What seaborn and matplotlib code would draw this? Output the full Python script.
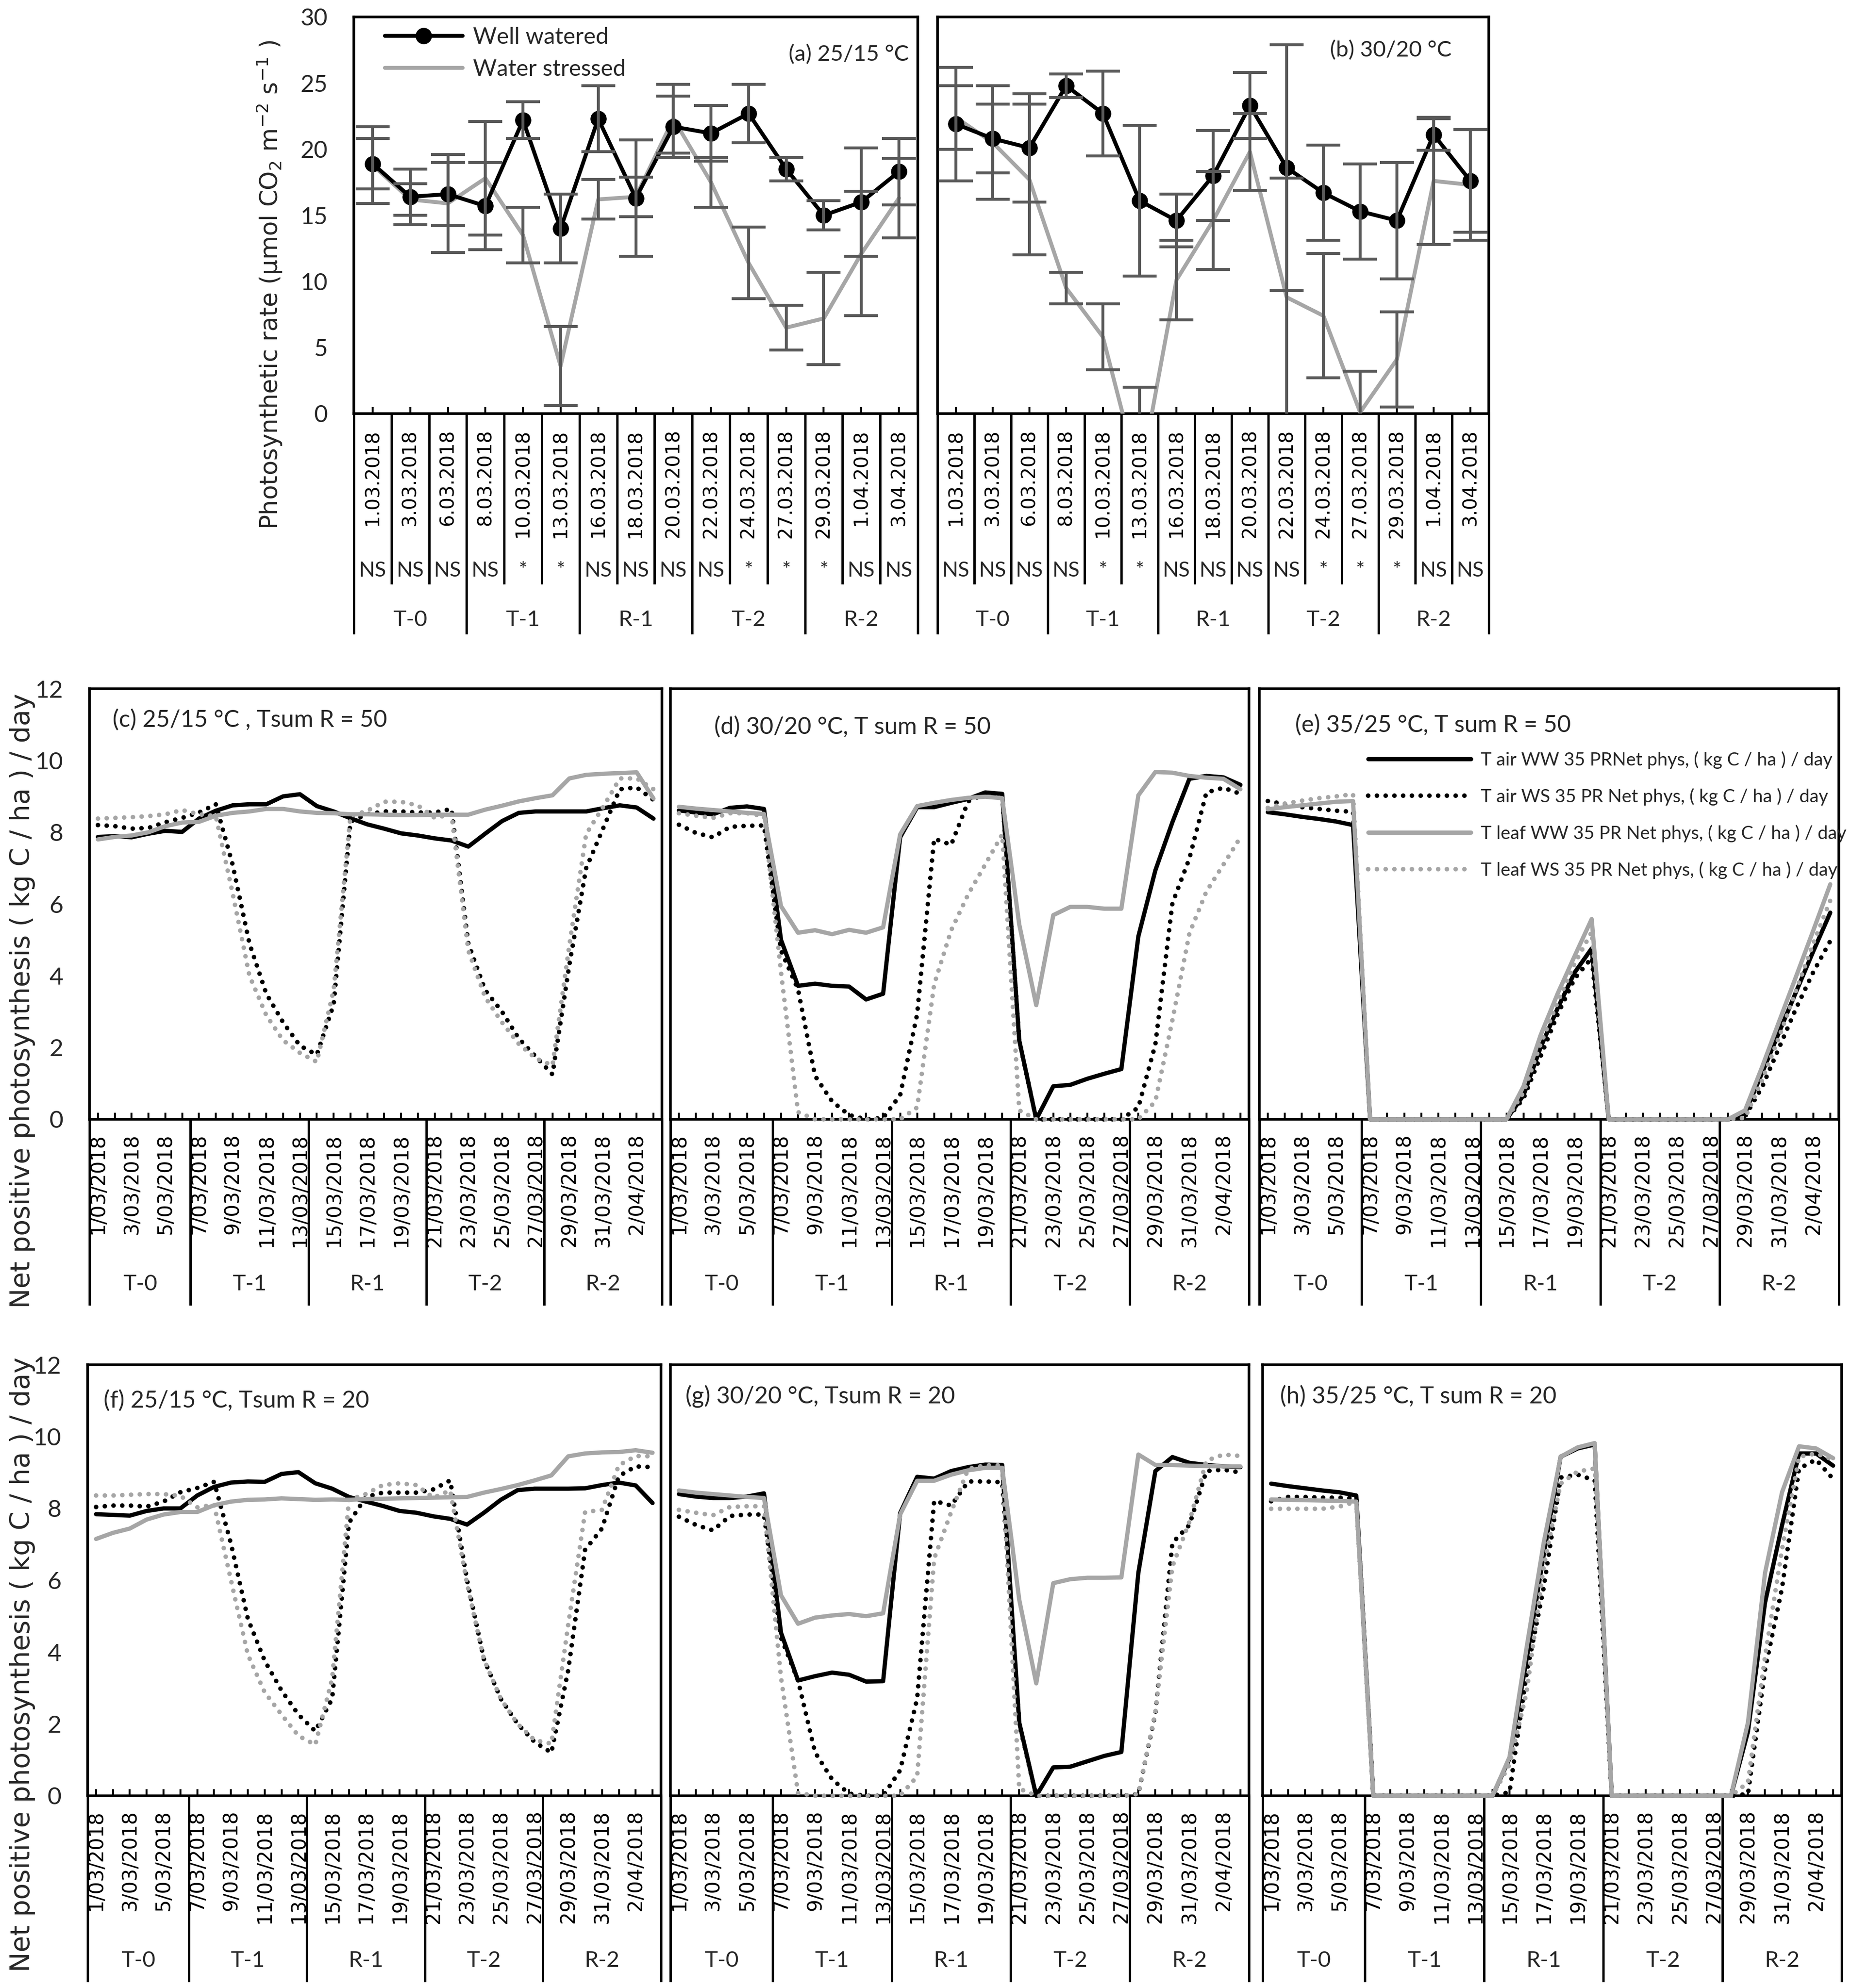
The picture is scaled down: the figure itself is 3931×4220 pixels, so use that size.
import numpy as np
import matplotlib
matplotlib.use("Agg")
import matplotlib.pyplot as plt
from matplotlib.lines import Line2D
import seaborn as sns

sns.set_theme(style="white")
plt.rcParams["font.family"] = ["Lato", "DejaVu Sans"]
plt.rcParams["mathtext.fontset"] = "dejavusans"

W, H = 3931, 4220
BLACK = "#000000"
GREY = "#A6A6A6"
ERR = "#595959"
DOT = (0, (0.01, 1.9))

# ---------------- data: measured photosynthesis (a, b) ----------------
top_dates = ["1.03.2018", "3.03.2018", "6.03.2018", "8.03.2018", "10.03.2018",
             "13.03.2018", "16.03.2018", "18.03.2018", "20.03.2018", "22.03.2018",
             "24.03.2018", "27.03.2018", "29.03.2018", "1.04.2018", "3.04.2018"]
top_sig = ["NS", "NS", "NS", "NS", "*", "*", "NS", "NS", "NS", "NS", "*", "*", "*", "NS", "NS"]
groups = ["T-0", "T-1", "R-1", "T-2", "R-2"]
top_group_sizes = [3, 3, 3, 3, 3]

a_ww = [18.9, 16.4, 16.6, 15.7, 22.2, 14.0, 22.3, 16.3, 21.7, 21.2, 22.7, 18.5, 15.0, 16.0, 18.3]
a_ww_err = [1.9, 2.1, 2.4, 3.3, 1.4, 2.6, 2.5, 4.4, 2.3, 2.1, 2.2, 0.9, 1.1, 4.1, 2.5]
a_ws = [18.8, 16.2, 15.9, 17.8, 13.5, 3.6, 16.2, 16.4, 22.3, 17.5, 11.4, 6.5, 7.2, 12.1, 16.3]
a_ws_err = [2.9, 1.2, 3.7, 4.3, 2.1, 3.0, 1.5, 1.5, 2.6, 1.9, 2.7, 1.7, 3.5, 4.7, 3.0]

b_ww = [21.9, 20.8, 20.1, 24.8, 22.7, 16.1, 14.6, 18.0, 23.3, 18.6, 16.7, 15.3, 14.6, 21.1, 17.6]
b_ww_err = [4.3, 2.6, 4.1, 0.9, 3.2, 5.7, 2.0, 3.4, 2.5, 9.3, 3.6, 3.6, 4.4, 1.2, 3.9]
b_ws = [22.4, 20.5, 17.7, 9.5, 5.8, -5.0, 10.1, 14.6, 19.8, 8.8, 7.4, 0.1, 4.1, 17.6, 17.3]
b_ws_err = [2.4, 4.3, 5.7, 1.2, 2.5, 7.0, 3.0, 3.7, 2.9, 9.0, 4.7, 3.1, 3.6, 4.8, 4.2]

# ---------------- data: simulated net photosynthesis (c - h) ----------------
mid_dates = ["1/03/2018", "3/03/2018", "5/03/2018", "7/03/2018", "9/03/2018", "11/03/2018",
             "13/03/2018", "15/03/2018", "17/03/2018", "19/03/2018", "21/03/2018", "23/03/2018",
             "25/03/2018", "27/03/2018", "29/03/2018", "31/03/2018", "2/04/2018"]
mid_group_sizes = [6, 7, 7, 7, 7]
n_days = 34

c_air_ww = [7.87, 7.89, 7.86, 7.96, 8.04, 8.01, 8.38, 8.60, 8.75, 8.78, 8.78, 9.00, 9.06, 8.73, 8.58, 8.39, 8.22,
            8.10, 7.97, 7.91, 7.83, 7.77, 7.60, 7.96, 8.31, 8.54, 8.58, 8.58, 8.58, 8.58, 8.67, 8.75, 8.69, 8.38]
c_air_ws = [8.20, 8.17, 8.10, 8.12, 8.28, 8.40, 8.55, 8.78, 7.10, 4.90, 3.50, 2.70, 2.05, 1.80, 3.20, 8.30, 8.50,
            8.58, 8.58, 8.55, 8.55, 8.65, 4.90, 3.60, 3.00, 2.25, 1.75, 1.25, 4.30, 7.00, 8.10, 9.20, 9.25, 8.90]
c_leaf_ww = [7.80, 7.87, 7.91, 8.00, 8.17, 8.27, 8.29, 8.46, 8.54, 8.58, 8.65, 8.65, 8.58, 8.54, 8.53, 8.50, 8.50,
             8.49, 8.48, 8.48, 8.49, 8.49, 8.49, 8.63, 8.74, 8.86, 8.95, 9.03, 9.50, 9.60, 9.63, 9.65, 9.67, 8.94]
c_leaf_ws = [8.38, 8.40, 8.42, 8.45, 8.50, 8.62, 8.50, 8.45, 6.30, 4.00, 2.90, 2.20, 1.85, 1.60, 3.60, 8.45, 8.60,
             8.85, 8.85, 8.75, 8.40, 8.50, 4.70, 3.40, 2.70, 2.10, 1.70, 1.50, 4.85, 7.95, 8.70, 9.50, 9.50, 9.20]

d_air_ww = [8.61, 8.55, 8.50, 8.68, 8.72, 8.65, 5.00, 3.72, 3.78, 3.72, 3.70, 3.34, 3.50, 7.86, 8.70, 8.70, 8.82,
            8.93, 9.11, 9.07, 2.20, 0.00, 0.92, 0.96, 1.13, 1.27, 1.40, 5.10, 6.94, 8.28, 9.49, 9.57, 9.53, 9.32]
d_air_ws = [8.21, 7.98, 7.86, 8.15, 8.18, 8.19, 4.70, 3.62, 1.21, 0.50, 0.12, 0.00, 0.04, 0.67, 2.93, 7.82, 7.65,
            8.86, 9.07, 9.03, 2.20, 0.00, 0.00, 0.00, 0.00, 0.00, 0.00, 0.33, 2.09, 6.02, 7.27, 9.11, 9.24, 9.07]
d_leaf_ww = [8.71, 8.66, 8.62, 8.58, 8.54, 8.51, 5.94, 5.20, 5.27, 5.16, 5.28, 5.20, 5.35, 7.94, 8.73, 8.82, 8.90,
             8.96, 8.99, 8.95, 5.43, 3.18, 5.69, 5.92, 5.92, 5.87, 5.87, 9.03, 9.68, 9.66, 9.57, 9.52, 9.49, 9.20]
d_leaf_ws = [8.53, 8.46, 8.40, 8.53, 8.53, 8.45, 4.10, 0.20, 0.00, 0.00, 0.00, 0.00, 0.00, 0.00, 0.33, 3.76, 5.27,
             6.27, 7.10, 7.94, 0.25, 0.00, 0.00, 0.00, 0.00, 0.00, 0.00, 0.00, 0.50, 2.76, 5.18, 6.35, 7.10, 7.86]

e_air_ww = [8.56, 8.50, 8.43, 8.37, 8.30, 8.20, 0.00, 0.00, 0.00, 0.00, 0.00, 0.00, 0.00, 0.00, 0.00, 0.67, 2.00,
            3.09, 4.09, 4.76, 0.00, 0.00, 0.00, 0.00, 0.00, 0.00, 0.00, 0.00, 0.17, 1.30, 2.43, 3.56, 4.68, 5.76]
e_air_ws = [8.87, 8.78, 8.70, 8.65, 8.60, 8.57, 0.00, 0.00, 0.00, 0.00, 0.00, 0.00, 0.00, 0.00, 0.00, 0.58, 1.75,
            2.92, 3.92, 4.50, 0.00, 0.00, 0.00, 0.00, 0.00, 0.00, 0.00, 0.00, 0.08, 0.90, 2.00, 3.10, 4.10, 4.97]
e_leaf_ww = [8.64, 8.70, 8.75, 8.80, 8.85, 8.87, 0.00, 0.00, 0.00, 0.00, 0.00, 0.00, 0.00, 0.00, 0.00, 0.92, 2.34,
             3.50, 4.55, 5.58, 0.00, 0.00, 0.00, 0.00, 0.00, 0.00, 0.00, 0.00, 0.25, 1.46, 2.73, 3.99, 5.26, 6.55]
e_leaf_ws = [8.68, 8.80, 8.88, 8.95, 9.00, 9.06, 0.00, 0.00, 0.00, 0.00, 0.00, 0.00, 0.00, 0.00, 0.00, 0.75, 2.09,
             3.26, 4.34, 5.22, 0.00, 0.00, 0.00, 0.00, 0.00, 0.00, 0.00, 0.00, 0.04, 1.10, 2.30, 3.60, 4.90, 6.10]

f_air_ww = [7.84, 7.82, 7.80, 7.93, 8.00, 8.00, 8.36, 8.60, 8.72, 8.75, 8.74, 8.96, 9.01, 8.70, 8.55, 8.32, 8.19,
            8.07, 7.93, 7.88, 7.78, 7.71, 7.55, 7.88, 8.24, 8.51, 8.55, 8.55, 8.55, 8.56, 8.65, 8.72, 8.64, 8.15]
f_air_ws = [8.04, 8.08, 8.08, 8.05, 8.19, 8.45, 8.57, 8.74, 7.02, 4.93, 3.76, 2.93, 2.26, 1.80, 2.70, 7.60, 8.32,
            8.44, 8.44, 8.44, 8.53, 8.78, 6.00, 3.80, 2.70, 2.00, 1.50, 1.20, 3.50, 6.85, 7.44, 8.90, 9.17, 9.15]
f_leaf_ww = [7.15, 7.32, 7.44, 7.69, 7.83, 7.90, 7.90, 8.09, 8.19, 8.24, 8.25, 8.28, 8.26, 8.24, 8.25, 8.24, 8.26,
             8.27, 8.28, 8.29, 8.30, 8.31, 8.32, 8.44, 8.54, 8.65, 8.78, 8.92, 9.45, 9.53, 9.56, 9.57, 9.62, 9.55]
f_leaf_ws = [8.36, 8.36, 8.38, 8.40, 8.40, 8.35, 8.03, 8.10, 6.00, 3.93, 2.88, 2.26, 1.67, 1.42, 3.26, 8.24, 8.40,
             8.65, 8.70, 8.65, 8.30, 8.50, 5.90, 3.80, 2.70, 2.00, 1.55, 1.45, 4.77, 7.90, 7.96, 9.20, 9.46, 9.45]

g_air_ww = [8.40, 8.33, 8.29, 8.29, 8.33, 8.42, 4.54, 3.21, 3.33, 3.43, 3.37, 3.18, 3.19, 7.87, 8.88, 8.83, 9.04,
            9.15, 9.22, 9.21, 2.04, 0.00, 0.79, 0.81, 0.96, 1.11, 1.22, 6.21, 9.04, 9.43, 9.27, 9.21, 9.17, 9.15]
g_air_ws = [7.77, 7.54, 7.39, 7.79, 7.83, 7.83, 4.40, 3.21, 1.21, 0.46, 0.06, 0.00, 0.00, 0.71, 2.71, 8.21, 8.08,
            8.75, 8.75, 8.73, 2.00, 0.00, 0.00, 0.00, 0.00, 0.00, 0.00, 0.05, 2.29, 7.04, 7.54, 9.04, 9.08, 9.00]
g_leaf_ww = [8.50, 8.44, 8.40, 8.36, 8.32, 8.29, 5.58, 4.79, 4.96, 5.02, 5.06, 5.00, 5.08, 7.83, 8.77, 8.77, 8.94,
             9.06, 9.13, 9.13, 5.46, 3.13, 5.92, 6.03, 6.07, 6.07, 6.08, 9.50, 9.21, 9.21, 9.19, 9.18, 9.17, 9.17]
g_leaf_ws = [7.96, 7.88, 7.81, 8.04, 8.06, 8.06, 3.29, 0.08, 0.00, 0.00, 0.00, 0.00, 0.00, 0.00, 0.54, 6.60, 7.90,
             9.10, 9.20, 9.20, 0.20, 0.00, 0.00, 0.00, 0.00, 0.00, 0.00, 0.05, 2.33, 6.38, 7.63, 9.33, 9.50, 9.46]

h_air_ww = [8.69, 8.62, 8.56, 8.50, 8.45, 8.36, 0.00, 0.00, 0.00, 0.00, 0.00, 0.00, 0.00, 0.00, 1.04, 3.80, 6.70,
            9.44, 9.67, 9.78, 0.00, 0.00, 0.00, 0.00, 0.00, 0.00, 0.00, 0.00, 1.79, 5.37, 7.53, 9.53, 9.53, 9.19]
h_air_ws = [8.20, 8.32, 8.32, 8.30, 8.30, 8.28, 0.00, 0.00, 0.00, 0.00, 0.00, 0.00, 0.00, 0.00, 0.10, 3.40, 5.78,
            8.86, 8.94, 8.78, 0.00, 0.00, 0.00, 0.00, 0.00, 0.00, 0.00, 0.00, 0.05, 3.50, 5.78, 9.11, 9.36, 8.82]
h_leaf_ww = [8.25, 8.24, 8.23, 8.22, 8.21, 8.19, 0.00, 0.00, 0.00, 0.00, 0.00, 0.00, 0.00, 0.00, 1.08, 4.12, 7.03,
             9.44, 9.70, 9.82, 0.00, 0.00, 0.00, 0.00, 0.00, 0.00, 0.00, 0.00, 2.04, 6.20, 8.45, 9.73, 9.67, 9.40]
h_leaf_ws = [7.99, 7.99, 7.99, 7.99, 8.05, 8.19, 0.00, 0.00, 0.00, 0.00, 0.00, 0.00, 0.00, 0.00, 0.87, 2.87, 6.36,
             8.69, 9.03, 9.11, 0.00, 0.00, 0.00, 0.00, 0.00, 0.00, 0.00, 0.00, 0.37, 3.87, 6.86, 9.44, 9.53, 9.36]

legend_labels = ["T air WW 35 PRNet phys, ( kg C / ha ) / day",
                 "T air WS 35 PR Net phys, ( kg C / ha ) / day",
                 "T leaf WW 35 PR Net phys, ( kg C / ha ) / day",
                 "T leaf WS 35 PR Net phys, ( kg C / ha ) / day"]


def add_ax(fig, left, right, top, bottom):
    return fig.add_axes([left / W, 1 - bottom / H, (right - left) / W, (bottom - top) / H])


def frac(top, bottom, ypx):
    return (bottom - ypx) / (bottom - top)


def style_box(ax):
    for sp in ax.spines.values():
        sp.set_visible(True)
        sp.set_color(BLACK)
        sp.set_linewidth(4.0)
    ax.grid(False)
    ax.set_facecolor("white")


def draw_table(ax, top, bottom, n, sizes, grp_y, grp_end, cat_end=None, sig=None, sig_y=None):
    tr = ax.get_xaxis_transform()
    kw = dict(transform=tr, color=BLACK, lw=3.6, clip_on=False, solid_capstyle="butt")
    if cat_end is not None:
        for b in range(1, n):
            ax.plot([b - 0.5, b - 0.5], [0, frac(top, bottom, cat_end)], **kw)
    edges = np.concatenate([[0], np.cumsum(sizes)]) - 0.5
    for e in edges:
        ax.plot([e, e], [0, frac(top, bottom, grp_end)], **kw)
    for name, lo, hi in zip(groups, edges[:-1], edges[1:]):
        ax.text((lo + hi) / 2, frac(top, bottom, grp_y), name, transform=tr,
                ha="center", va="center", fontsize=34)
    if sig is not None:
        for i, s in enumerate(sig):
            ax.text(i, frac(top, bottom, sig_y), s, transform=tr,
                    ha="center", va="baseline", fontsize=32)


fig = plt.figure(figsize=(W / 100, H / 100), dpi=100)
fig.patch.set_facecolor("white")

# ---------------- top row ----------------
TT, TB = 36, 878
top_specs = [
    (751, 1948, a_ww, a_ww_err, a_ws, a_ws_err, "(a) 25/15 \u00b0C", 0.984, 0.905, True),
    (1990, 3160, b_ww, b_ww_err, b_ws, b_ws_err, "(b) 30/20 \u00b0C", 0.933, 0.916, False),
]
for left, right, ww, ww_err, ws, ws_err, title, tx, ty, first in top_specs:
    ax = add_ax(fig, left, right, TT, TB)
    style_box(ax)
    x = np.arange(len(top_dates))
    sns.lineplot(x=x, y=ww, ax=ax, color=BLACK, lw=6, marker="o", markersize=24,
                 markeredgecolor=BLACK, markerfacecolor=BLACK, zorder=4)
    sns.lineplot(x=x, y=ws, ax=ax, color=GREY, lw=6, zorder=3)
    ax.errorbar(x, ww, yerr=ww_err, fmt="none", ecolor=ERR, elinewidth=4.5,
                capsize=26, capthick=4.5, zorder=5)
    ax.errorbar(x, ws, yerr=ws_err, fmt="none", ecolor=ERR, elinewidth=4.5,
                capsize=26, capthick=4.5, zorder=5)
    ax.set_xlim(-0.5, len(top_dates) - 0.5)
    ax.set_ylim(0, 30)
    ax.set_yticks(range(0, 31, 5))
    ax.set_xticks(x)
    ax.set_xticklabels(top_dates, rotation=90, fontsize=29, fontfamily="DejaVu Sans")
    ax.tick_params(axis="x", direction="in", length=10, width=3, pad=24, colors=BLACK, bottom=True)
    ax.tick_params(axis="y", length=0, pad=40, labelsize=36)
    if not first:
        ax.set_yticklabels([])
    ax.set_xlabel("")
    ax.set_ylabel("")
    ax.text(tx, ty, title, transform=ax.transAxes, ha="right", va="center", fontsize=34)
    draw_table(ax, TT, TB, len(top_dates), top_group_sizes, grp_y=1316, grp_end=1346,
               cat_end=1240, sig=top_sig, sig_y=1224)
    if first:
        handles = [Line2D([], [], color=BLACK, lw=6, marker="o", markersize=24),
                   Line2D([], [], color=GREY, lw=6)]
        ax.legend(handles, ["Well watered", "Water stressed"], loc="upper left",
                  bbox_to_anchor=(0.055, 0.975), frameon=False, fontsize=35,
                  handlelength=3.4, handletextpad=0.45, labelspacing=0.5,
                  borderpad=0, borderaxespad=0)

fig.text(572 / W, 1 - 604 / H,
         "Photosynthetic rate (\u00b5mol CO$_2$ m$^{-2}$ s$^{-1}$ )",
         rotation=90, ha="center", va="center", fontsize=37, fontfamily="DejaVu Sans")

# ---------------- middle and bottom rows ----------------
mid_specs = [
    (190, 1405, 1462, 2376, (c_air_ww, c_air_ws, c_leaf_ww, c_leaf_ws),
     "(c) 25/15 \u00b0C , Tsum R = 50", 0.040, 0.928, True, False),
    (1423, 2651, 1462, 2376, (d_air_ww, d_air_ws, d_leaf_ww, d_leaf_ws),
     "(d) 30/20 \u00b0C, T sum R = 50", 0.0757, 0.911, False, False),
    (2673, 3903, 1462, 2376, (e_air_ww, e_air_ws, e_leaf_ww, e_leaf_ws),
     "(e) 35/25 \u00b0C, T sum R = 50", 0.062, 0.915, False, True),
    (186, 1403, 2897, 3812, (f_air_ww, f_air_ws, f_leaf_ww, f_leaf_ws),
     "(f) 25/15 \u00b0C, Tsum R = 20", 0.028, 0.917, True, False),
    (1423, 2651, 2897, 3812, (g_air_ww, g_air_ws, g_leaf_ww, g_leaf_ws),
     "(g) 30/20 \u00b0C, Tsum R = 20", 0.026, 0.927, False, False),
    (2680, 3909, 2897, 3812, (h_air_ww, h_air_ws, h_leaf_ww, h_leaf_ws),
     "(h) 35/25 \u00b0C, T sum R = 20", 0.030, 0.927, False, False),
]
line_styles = [(BLACK, "-", 6.5), (BLACK, DOT, 7.0), (GREY, "-", 6.5), (GREY, DOT, 7.0)]
xt_labels = [mid_dates[i // 2] if i % 2 == 0 else "" for i in range(n_days)]

for left, right, top, bottom, series, title, tx, ty, first, with_legend in mid_specs:
    ax = add_ax(fig, left, right, top, bottom)
    style_box(ax)
    x = np.arange(n_days)
    for vals, (col, ls, lw) in zip(series, line_styles):
        sns.lineplot(x=x, y=vals, ax=ax, color=col, linestyle=ls, lw=lw,
                     dash_capstyle="round", clip_on=False, zorder=3)
    ax.set_xlim(-0.5, n_days - 0.5)
    ax.set_ylim(0, 12)
    ax.set_yticks(range(0, 13, 2))
    ax.set_xticks(x)
    ax.set_xticklabels(xt_labels, rotation=90, fontsize=30, fontfamily="DejaVu Sans")
    ax.tick_params(axis="x", direction="in", length=10, width=3, pad=22, colors=BLACK, bottom=True)
    ax.tick_params(axis="y", length=0, pad=40, labelsize=37)
    if not first:
        ax.set_yticklabels([])
    ax.set_xlabel("")
    ax.set_ylabel("")
    ax.text(tx, ty, title, transform=ax.transAxes, ha="left", va="center", fontsize=36)
    draw_table(ax, top, bottom, n_days, mid_group_sizes, grp_y=bottom + 350, grp_end=bottom + 395)
    if with_legend:
        handles = [Line2D([], [], color=c, linestyle=s, lw=w, dash_capstyle="round")
                   for c, s, w in line_styles]
        ax.legend(handles, legend_labels, loc="upper left", bbox_to_anchor=(0.188, 0.855),
                  frameon=False, fontsize=28, handlelength=5.6, handletextpad=0.55,
                  labelspacing=1.05, borderpad=0, borderaxespad=0)

for yc in (2124, 3533):
    fig.text(48 / W, 1 - yc / H, "Net positive photosynthesis ( kg C / ha ) / day",
             rotation=90, ha="center", va="center", fontsize=41, fontfamily="DejaVu Sans")

fig.savefig("out.png", dpi=100, facecolor="white")
